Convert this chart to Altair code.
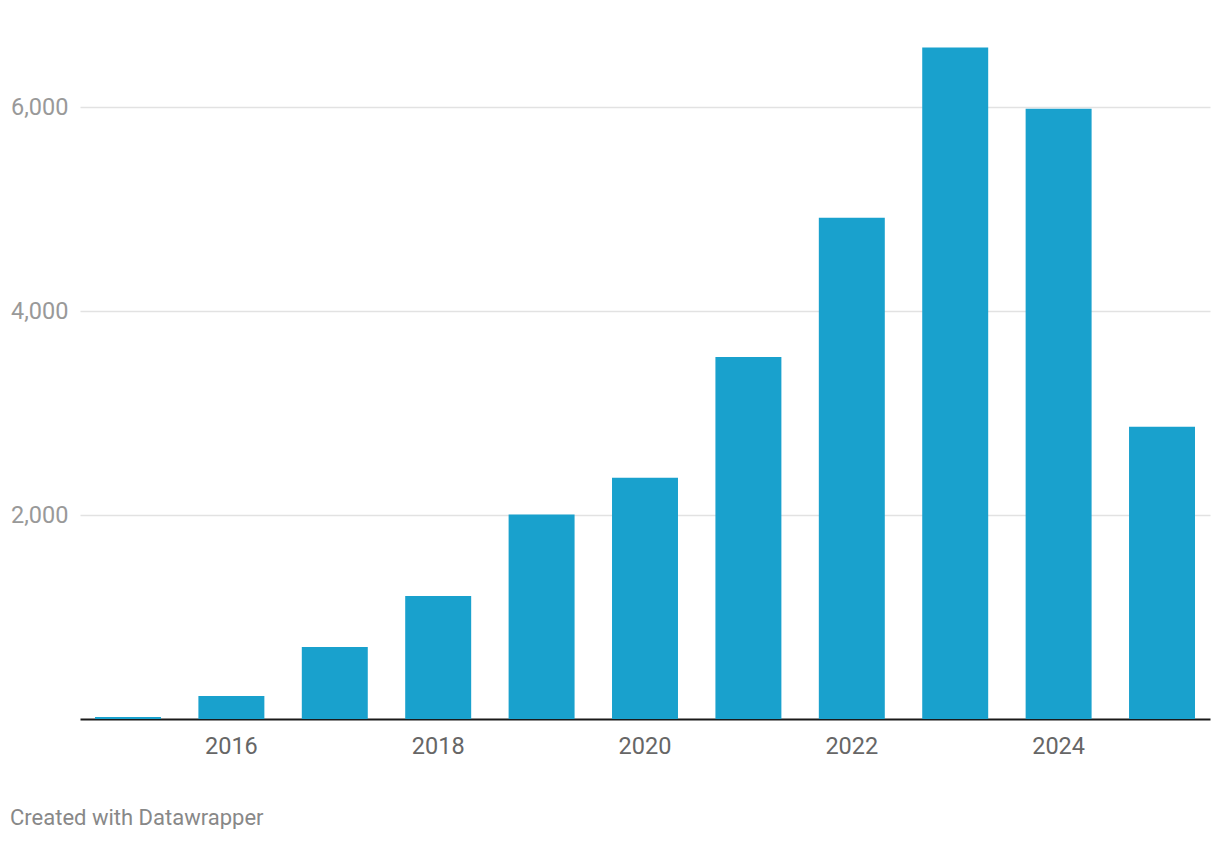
import altair as alt
import pandas as pd

years = [2015, 2016, 2017, 2018, 2019, 2020, 2021, 2022, 2023, 2024, 2025]
values = [20, 225, 706, 1206, 2005, 2365, 3550, 4915, 6585, 5985, 2865]

df = pd.DataFrame({"year": [str(y) for y in years], "value": values})

bars = alt.Chart(df).mark_bar(color="#19a1cd").encode(
    x=alt.X(
        "year:N",
        sort=None,
        title=None,
        scale=alt.Scale(paddingInner=0.362, paddingOuter=0.145),
        axis=alt.Axis(
            labelExpr="(+datum.value) % 2 == 0 ? datum.value : ''",
            labelAngle=0,
            labelFont="Roboto",
            labelFontSize=23.5,
            labelColor="#666666",
            labelPadding=15,
            ticks=False,
            domain=True,
            domainColor="#1a1a1a",
            domainWidth=2,
            grid=False,
        ),
    ),
    y=alt.Y(
        "value:Q",
        title=None,
        scale=alt.Scale(domain=[0, 6600], nice=False),
        axis=alt.Axis(
            values=[2000, 4000, 6000],
            format=",.0f",
            labelFont="Roboto",
            labelFontSize=23.5,
            labelColor="#999999",
            labelPadding=12,
            ticks=False,
            domain=False,
            grid=True,
            gridColor="#e2e2e2",
            gridWidth=1.5,
        ),
    ),
)

footer = alt.Chart(pd.DataFrame({"t": ["Created with Datawrapper"]})).mark_text(
    align="left", baseline="middle", font="Roboto", fontSize=22, color="#888888"
).encode(text="t:N", x=alt.value(-70), y=alt.value(772))

chart = alt.layer(bars, footer).properties(
    width=1130,
    height=673,
    padding={"left": 72, "top": 38, "right": 2, "bottom": 110},
    autosize=alt.AutoSizeParams(type="none"),
).configure_view(stroke=None)

chart.save("out.html", embed_options={"renderer": "svg", "actions": False})
